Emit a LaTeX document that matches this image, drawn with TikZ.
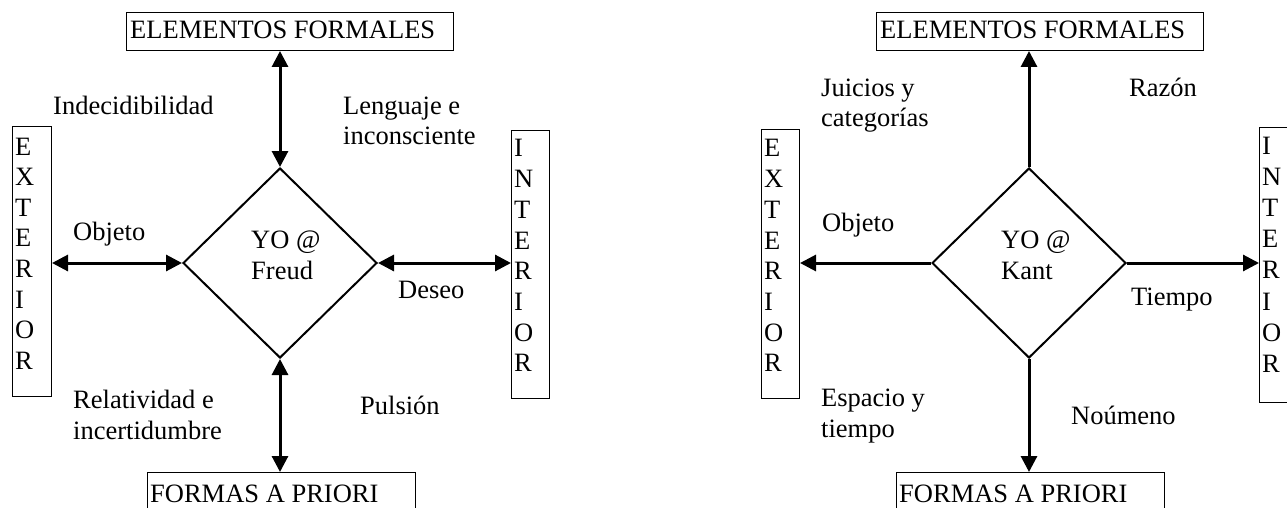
\documentclass[tikz,border=0pt]{standalone}
\usepackage{fontspec}
\setmainfont{Liberation Serif}
\usetikzlibrary{arrows.meta,shapes.geometric}
\begin{document}
\begin{tikzpicture}[x=1pt,y=-1pt,
  every node/.style={font=\fontsize{26.5}{30.8}\selectfont},
  txt/.style={inner sep=0pt, anchor=base west, align=left},
  hbox/.style={draw, line width=1pt, anchor=north west, inner sep=0pt},
  vbox/.style={draw, line width=1pt, anchor=north west, inner sep=0pt},
  yo/.style={diamond, draw, line width=2pt, inner sep=0pt, minimum width=194pt, minimum height=190pt},
  dbl/.style={line width=3pt, {Triangle[length=16pt,width=16pt]}-{Triangle[length=16pt,width=16pt]}},
  sgl/.style={line width=3pt, -{Triangle[length=16pt,width=16pt]}}
]
\useasboundingbox (0,0) rectangle (1287,508);

% ---------------- left diagram (Freud) ----------------
\node[hbox, minimum width=327pt, minimum height=38pt] (topL) at (126,12) {};
\node[txt] (topLt) at (130,39) {ELEMENTOS FORMALES};
\node[hbox, minimum width=268pt, minimum height=42pt] (botL) at (147,472) {};
\node[txt] (botLt) at (150,502) {FORMAS A PRIORI};
\node[vbox, minimum width=39pt, minimum height=270pt] (extL) at (12,126) {};
\node[vbox, minimum width=38pt, minimum height=268pt] (intL) at (511,130) {};
\foreach \l [count=\i from 0] in {E,X,T,E,R,I,O,R}
  \node[txt] (extL-\i) at (15,155+\i*30.6) {\l};
\foreach \l [count=\i from 0] in {I,N,T,E,R,I,O,R}
  \node[txt] (intL-\i) at (514,157+\i*30.7) {\l};
\node[yo] (dL) at (280,263) {};
\node[txt] (dLt) at (251,279) {YO @\\Freud};

\draw[dbl] (dL.north |- topL.south) -- (dL.north);
\draw[dbl] (dL.south) -- (dL.south |- botL.north);
\draw[dbl] (extL.east |- dL.west) -- (dL.west);
\draw[dbl] (dL.east) -- (intL.west |- dL.east);

\node[txt] (l1) at (53,114) {Indecidibilidad};
\node[txt] (l2) at (343,145) {Lenguaje e\\inconsciente};
\node[txt] (l3) at (73,240) {Objeto};
\node[txt] (l4) at (398,298) {Deseo};
\node[txt] (l5) at (73,439) {Relatividad e\\incertidumbre};
\node[txt] (l6) at (360,414) {Pulsión};

% ---------------- right diagram (Kant) ----------------
\node[hbox, minimum width=327pt, minimum height=38pt] (topR) at (876,12) {};
\node[txt] (topRt) at (880,39) {ELEMENTOS FORMALES};
\node[hbox, minimum width=268pt, minimum height=42pt] (botR) at (896,472) {};
\node[txt] (botRt) at (899,502) {FORMAS A PRIORI};
\node[vbox, minimum width=38pt, minimum height=269pt] (extR) at (761,129) {};
\node[vbox, minimum width=39pt, minimum height=275pt] (intR) at (1259,127) {};
\foreach \l [count=\i from 0] in {E,X,T,E,R,I,O,R}
  \node[txt] (extR-\i) at (764,157+\i*30.7) {\l};
\foreach \l [count=\i from 0] in {I,N,T,E,R,I,O,R}
  \node[txt] (intR-\i) at (1262,154+\i*31.2) {\l};
\node[yo] (dR) at (1029,263) {};
\node[txt] (dRt) at (1001,279) {YO @\\Kant};

\draw[sgl] (dR.north) -- (dR.north |- topR.south);
\draw[sgl] (dR.south) -- (dR.south |- botR.north);
\draw[sgl] (dR.west) -- (extR.east |- dR.west);
\draw[sgl] (dR.east) -- (intR.west |- dR.east);

\node[txt] (r1) at (821,127) {Juicios y\\categorías};
\node[txt] (r2) at (1129,97) {Razón};
\node[txt] (r3) at (822,231) {Objeto};
\node[txt] (r4) at (1131,305) {Tiempo};
\node[txt] (r5) at (821,437) {Espacio y\\tiempo};
\node[txt] (r6) at (1071,424) {Noúmeno};
\end{tikzpicture}
\end{document}
